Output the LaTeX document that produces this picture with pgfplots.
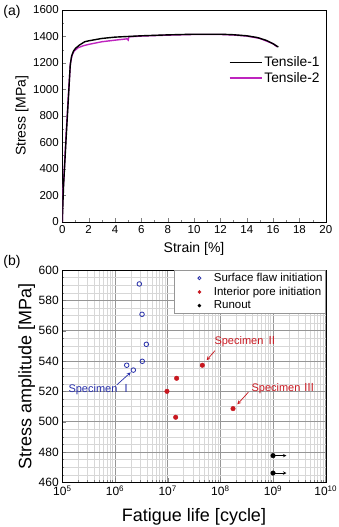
\documentclass[border=0pt]{standalone}
\usepackage{fontspec}
\setmainfont{Liberation Sans}
\newfontfamily\cjk{Noto Sans CJK SC}
\usepackage{pgfplots}
\pgfplotsset{compat=1.18}
\definecolor{mag}{RGB}{190,36,190}
\definecolor{sblue}{RGB}{40,48,170}
\definecolor{sred}{RGB}{200,24,32}
\definecolor{majgrid}{RGB}{150,150,150}
\definecolor{mingrid}{RGB}{215,215,215}
\begin{document}
\begin{tikzpicture}
\path[use as bounding box] (0,0) rectangle (339pt,-527pt);
\node[font=\fontsize{14}{16}\selectfont] at (12pt,-12pt) {(a)};
\node[font=\fontsize{14}{16}\selectfont] at (12pt,-262pt) {(b)};
\begin{axis}[at={(62.3pt,-221.7pt)}, anchor=south west, scale only axis,
 width=263.5pt, height=211.7pt,
 xmin=0, xmax=20, ymin=0, ymax=1600,
 xtick={0,2,...,20}, ytick={0,200,...,1600}, minor tick num=1,
 tick align=inside, tick pos=left, major tick length=4pt, minor tick length=2pt,
 /pgf/number format/assume math mode=true, /pgf/number format/1000 sep={},
 tick label style={font=\fontsize{11.5}{13}\selectfont},
 xlabel={Strain [\%]}, ylabel={Stress [MPa]},
 label style={font=\fontsize{14}{16}\selectfont},
 xlabel style={at={(axis description cs:0.5,-0.130)}, anchor=center},
 ylabel style={at={(axis description cs:-0.153,0.5)}, anchor=center},
 legend style={draw=none, fill=none, at={(axis description cs:0.62,0.80)}, anchor=north west,
   font=\fontsize{13.8}{15}\selectfont, row sep=0pt},
 legend image code/.code={\draw[#1, line width=1.5pt] (0pt,0pt) -- (32pt,0pt);},
 legend cell align=left,
]
\addplot[mag, line width=1.4pt, forget plot] coordinates {
(0,0)(0.03,200)(0.1,300)(0.3,680)(0.5,1020)(0.62,1200)(0.75,1260)(0.9,1290)(1.2,1315)(1.6,1330)(2,1340)(3,1360)(4,1372)(4.9,1382)(5.0,1372)(5.05,1398)(5.2,1398)(6,1403)(8,1410)(10,1415)(12,1415)(13,1411)(14,1403)(15,1385)(16,1345)(16.3,1322)};
\addplot[black, line width=1.4pt] coordinates {
(0,0)(0.05,150)(0.1,280)(0.3,650)(0.5,1000)(0.6,1180)(0.7,1250)(0.85,1290)(1.0,1310)(1.3,1335)(1.7,1360)(2,1367)(3,1385)(4,1395)(6,1405)(8,1412)(10,1417)(12,1417)(13,1413)(14,1405)(14.8,1392)(15.5,1370)(16,1345)(16.4,1320)};
\addlegendentry{Tensile-1}
\addlegendimage{color=mag}
\addlegendentry{Tensile-2}
\end{axis}

\begin{axis}[at={(62.3pt,-482.3pt)}, anchor=south west, scale only axis,
 width=263.4pt, height=212.3pt,
 xmode=log, xmin=1e5, xmax=1e10, ymin=460, ymax=600,
 xtick={1e5,1e6,1e7,1e8,1e9,1e10},
 xticklabels={10\textsuperscript{5},10\textsuperscript{6},10\textsuperscript{7},10\textsuperscript{8},10\textsuperscript{9},10\textsuperscript{10}},
 ytick={460,480,...,600}, minor y tick num=3,
 grid=both, major grid style={majgrid, line width=0.5pt}, minor grid style={mingrid, line width=0.4pt},
 tick align=inside, tick pos=left, major tick length=4pt, minor tick length=2pt,
 /pgf/number format/assume math mode=true, /pgf/number format/1000 sep={},
 tick label style={font=\fontsize{12}{14}\selectfont},
 xlabel={Fatigue life [cycle]}, ylabel={Stress amplitude [MPa]},
 label style={font=\fontsize{18}{20}\selectfont},
 xlabel style={at={(axis description cs:0.5,-0.162)}, anchor=center},
 ylabel style={at={(axis description cs:-0.135,0.5)}, anchor=center},
 legend style={draw=majgrid, fill=white, at={(axis description cs:1,1)}, anchor=north east,
   font=\fontsize{11.5}{13}\selectfont, row sep=0pt, inner sep=1pt},
 legend image code/.code={\path (0pt,0pt) (36pt,0pt); \draw[mark size=1.6pt,#1] plot coordinates {(24pt,0pt)};},
 legend cell align=left,
]
\addplot[only marks, mark=o, sblue, mark size=2.3pt, line width=0.8pt] coordinates {
(2.9e6,590.8)(3.26e6,570.8)(3.94e6,551)(3.3e6,539.8)(1.67e6,537.2)(2.23e6,534)};
\addlegendentry{Surface flaw initiation}
\addplot[only marks, mark=*, sred, mark size=2.3pt] coordinates {
(9.7e6,520)(1.48e7,528.6)(1.42e7,502.9)(4.55e7,537.2)(1.74e8,508.6)};
\addlegendentry{Interior pore initiation}
\addplot[only marks, mark=*, black, mark size=2.3pt] coordinates {
(1.0e9,477.6)(1.0e9,466.1)};
\addlegendentry{Runout}
\addplot[black, line width=0.6pt, -stealth, forget plot] coordinates {(1.0e9,477.6)(1.8e9,477.6)};
\addplot[black, line width=0.6pt, -stealth, forget plot] coordinates {(1.0e9,466.1)(1.8e9,466.1)};
\draw[sblue, line width=0.7pt, -stealth] (axis cs:1.08e6,524.2) -- (axis cs:1.99e6,532.5);
\draw[sred, line width=0.7pt, -stealth] (axis cs:7.9e7,546.8) -- (axis cs:5.5e7,540.5);
\draw[sred, line width=0.7pt, -stealth] (axis cs:3.4e8,519.4) -- (axis cs:2.1e8,511.4);
\node[sblue, font=\fontsize{11}{12}\selectfont] at (axis cs:5.2e5,521) {Specimen {\cjk Ⅰ}};
\node[sred, font=\fontsize{11}{12}\selectfont] at (axis cs:3.07e8,552.5) {Specimen {\cjk Ⅱ}};
\node[sred, font=\fontsize{11}{12}\selectfont] at (axis cs:1.55e9,522) {Specimen {\cjk Ⅲ}};
\end{axis}
\end{tikzpicture}
\end{document}
